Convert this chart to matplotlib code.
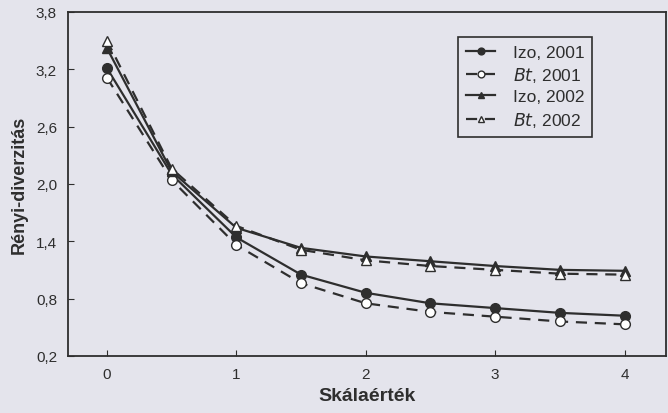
import matplotlib.pyplot as plt

plt.rcParams["font.family"] = ["Liberation Sans", "DejaVu Sans"]

scale = [0, 0.5, 1, 1.5, 2, 2.5, 3, 3.5, 4]
izo_2001 = [3.21, 2.10, 1.44, 1.05, 0.86, 0.75, 0.70, 0.65, 0.62]
bt_2001 = [3.11, 2.04, 1.36, 0.96, 0.75, 0.66, 0.61, 0.56, 0.53]
izo_2002 = [3.42, 2.13, 1.54, 1.33, 1.24, 1.19, 1.14, 1.10, 1.09]
bt_2002 = [3.50, 2.16, 1.56, 1.31, 1.20, 1.14, 1.10, 1.06, 1.05]

yticks = [0.2, 0.8, 1.4, 2.0, 2.6, 3.2, 3.8]
ytick_labels = ["0,2", "0,8", "1,4", "2,0", "2,6", "3,2", "3,8"]

paper = "#e4e4ec"
ink = "#2e2e2e"

fig = plt.figure(figsize=(6.68, 4.14), dpi=100, facecolor=paper)
ax = fig.add_axes([0.102, 0.138, 0.895, 0.831], facecolor=paper)

ax.plot(scale, izo_2001, color=ink, lw=1.6, marker="o", ms=7,
        mfc=ink, mec=ink, label="Izo, 2001")
ax.plot(scale, bt_2001, color=ink, lw=1.6, ls=(0, (5, 3.5)), marker="o", ms=7,
        mfc="white", mec=ink, label="$\\it{Bt}$, 2001")
ax.plot(scale, izo_2002, color=ink, lw=1.6, marker="^", ms=7,
        mfc=ink, mec=ink, label="Izo, 2002")
ax.plot(scale, bt_2002, color=ink, lw=1.6, ls=(0, (5, 3.5)), marker="^", ms=7,
        mfc="white", mec=ink, label="$\\it{Bt}$, 2002")

ax.set_xlim(-0.30, 4.32)
ax.set_ylim(0.2, 3.8)
ax.set_xticks([0, 1, 2, 3, 4])
ax.set_yticks(yticks)
ax.set_yticklabels(ytick_labels)
ax.tick_params(direction="in", length=4, color=ink, labelcolor=ink,
               labelsize=11, pad=8)
for s in ax.spines.values():
    s.set_color(ink)
    s.set_linewidth(1.3)

ax.set_xlabel("Skálaérték", fontsize=14, fontweight="bold", color=ink, labelpad=4)
ax.set_ylabel("Rényi-diverzitás", fontsize=13, fontweight="bold", color=ink, labelpad=6)

leg = ax.legend(loc="upper left", bbox_to_anchor=(0.652, 0.927), fontsize=12.5,
                frameon=True, fancybox=False, edgecolor=ink, facecolor=paper,
                framealpha=1, handlelength=1.7, labelspacing=0.3,
                borderpad=0.45, borderaxespad=0, handletextpad=1.0,
                markerscale=0.7, labelcolor=ink)
leg.get_frame().set_linewidth(1.2)

fig.savefig("out.png", dpi=100, facecolor=paper)
